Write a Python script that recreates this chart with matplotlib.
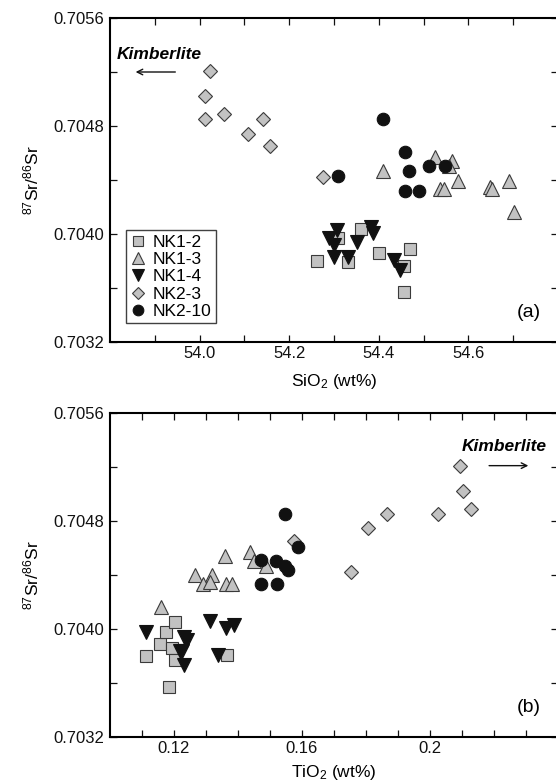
import matplotlib
matplotlib.use("Agg")
import matplotlib.pyplot as plt
from matplotlib.ticker import FixedLocator, FixedFormatter

plt.rcParams['font.family'] = ['Liberation Sans', 'DejaVu Sans']
plt.rcParams['mathtext.default'] = 'regular'

# ---------------- Data: panel (a) SiO2 vs 87Sr/86Sr ----------------
a_nk12_x = [54.262, 54.309, 54.331, 54.361, 54.400, 54.456, 54.469, 54.456]
a_nk12_y = [0.70380, 0.70397, 0.70379, 0.70404, 0.70386, 0.70376, 0.70389, 0.70357]

a_nk13_x = [54.409, 54.525, 54.564, 54.557, 54.577, 54.536, 54.545, 54.649, 54.653, 54.690, 54.701]
a_nk13_y = [0.70447, 0.70457, 0.70454, 0.70450, 0.70439, 0.70433, 0.70433, 0.70435, 0.70433, 0.70439, 0.70416]

a_nk14_x = [54.307, 54.289, 54.300, 54.300, 54.331, 54.352, 54.383, 54.387, 54.433, 54.448]
a_nk14_y = [0.70403, 0.70397, 0.70392, 0.70383, 0.70383, 0.70394, 0.70405, 0.70401, 0.70381, 0.70373]

a_nk23_x = [54.023, 54.012, 54.012, 54.055, 54.108, 54.141, 54.157, 54.276]
a_nk23_y = [0.70521, 0.70502, 0.70485, 0.70489, 0.70474, 0.70485, 0.70465, 0.70442]

a_nk210_x = [54.409, 54.309, 54.459, 54.467, 54.512, 54.547, 54.459, 54.490]
a_nk210_y = [0.70485, 0.70443, 0.70461, 0.70447, 0.70450, 0.70450, 0.70432, 0.70432]

# ---------------- Data: panel (b) TiO2 vs 87Sr/86Sr ----------------
b_nk12_x = [0.1112, 0.1155, 0.1176, 0.1202, 0.1194, 0.1202, 0.1365, 0.1183]
b_nk12_y = [0.70380, 0.70389, 0.70398, 0.70405, 0.70386, 0.70377, 0.70381, 0.70357]

b_nk13_x = [0.1158, 0.1360, 0.1437, 0.1449, 0.1487, 0.1267, 0.1319, 0.1290, 0.1311, 0.1361, 0.1381]
b_nk13_y = [0.70416, 0.70454, 0.70457, 0.70450, 0.70447, 0.70440, 0.70440, 0.70433, 0.70435, 0.70433, 0.70433]

b_nk14_x = [0.1111, 0.1311, 0.1361, 0.1386, 0.1230, 0.1240, 0.1218, 0.1226, 0.1230, 0.1337]
b_nk14_y = [0.70398, 0.70406, 0.70401, 0.70403, 0.70394, 0.70392, 0.70384, 0.70384, 0.70373, 0.70381]

b_nk23_x = [0.2093, 0.2104, 0.2127, 0.2026, 0.1867, 0.1805, 0.1575, 0.1754]
b_nk23_y = [0.70521, 0.70502, 0.70489, 0.70485, 0.70485, 0.70475, 0.70465, 0.70442]

b_nk210_x = [0.1546, 0.1588, 0.1471, 0.1518, 0.1546, 0.1557, 0.1471, 0.1521]
b_nk210_y = [0.70485, 0.70461, 0.70451, 0.70450, 0.70447, 0.70444, 0.70433, 0.70433]

series_labels = ['NK1-2', 'NK1-3', 'NK1-4', 'NK2-3', 'NK2-10']

y_major = [0.7032, 0.7040, 0.7048, 0.7056]
y_minor = [0.7036, 0.7044, 0.7052]
y_major_labels = ['0.7032', '0.7040', '0.7048', '0.7056']

a_x_major = [54.0, 54.2, 54.4, 54.6]
a_x_major_labels = ['54.0', '54.2', '54.4', '54.6']
a_x_minor = [53.9, 54.1, 54.3, 54.5, 54.7]

b_x_major = [0.12, 0.16, 0.20]
b_x_major_labels = ['0.12', '0.16', '0.2']
b_x_minor = [0.11, 0.13, 0.14, 0.15, 0.17, 0.18, 0.19, 0.21, 0.22, 0.23]

GRAY = '#c2c2c2'
EDGE = '#3a3a3a'
styles = [
    dict(marker='s', ms=8.0, mfc=GRAY, mec=EDGE, mew=0.8),
    dict(marker='^', ms=9.5, mfc=GRAY, mec=EDGE, mew=0.8),
    dict(marker='v', ms=9.5, mfc='#111111', mec='#111111', mew=0.8),
    dict(marker='D', ms=7.5, mfc=GRAY, mec=EDGE, mew=0.8),
    dict(marker='o', ms=9.0, mfc='#111111', mec='#111111', mew=0.8),
]

W, H = 556, 783
fig = plt.figure(figsize=(W / 100, H / 100), dpi=100)

def frac(l, t, r, b):
    return [l / W, 1 - b / H, (r - l) / W, (b - t) / H]

ax_a = fig.add_axes(frac(110, 18, 558, 342))
ax_b = fig.add_axes(frac(110, 413, 558, 737))

def style_axes(ax, xmaj, xmaj_labels, xmin):
    for s in ax.spines.values():
        s.set_linewidth(1.5)
    ax.set_ylim(0.7032, 0.7056)
    ax.yaxis.set_major_locator(FixedLocator(y_major))
    ax.yaxis.set_major_formatter(FixedFormatter(y_major_labels))
    ax.yaxis.set_minor_locator(FixedLocator(y_minor))
    ax.xaxis.set_major_locator(FixedLocator(xmaj))
    ax.xaxis.set_major_formatter(FixedFormatter(xmaj_labels))
    ax.xaxis.set_minor_locator(FixedLocator(xmin))
    ax.tick_params(which='both', direction='in', length=5, width=0.9,
                   top=True, right=True, labelsize=12, colors='#111111')
    ax.tick_params(axis='x', which='major', pad=3)
    ax.tick_params(axis='y', which='major', pad=4)
    ax.set_ylabel('$^{87}$Sr/$^{86}$Sr', fontsize=12.5, labelpad=9)

# Panel (a)
ax_a.set_xlim(53.8, 54.8)
a_series = [(a_nk12_x, a_nk12_y), (a_nk13_x, a_nk13_y), (a_nk14_x, a_nk14_y),
            (a_nk23_x, a_nk23_y), (a_nk210_x, a_nk210_y)]
for (xs, ys), st, lab in zip(a_series, styles, series_labels):
    ax_a.plot(xs, ys, ls='none', label=lab, **st)
style_axes(ax_a, a_x_major, a_x_major_labels, a_x_minor)
ax_a.set_xlabel('SiO$_2$ (wt%)', fontsize=12.5, labelpad=8)
leg = ax_a.legend(loc='lower left', bbox_to_anchor=(0.036, 0.058), borderaxespad=0,
                  fontsize=12.5, frameon=True, fancybox=False, edgecolor='#111111',
                  handlelength=0.9, handletextpad=0.4, labelspacing=0.12,
                  borderpad=0.25, markerscale=0.85)
leg.get_frame().set_linewidth(1.0)
ax_a.text(53.816, 0.70533, 'Kimberlite', fontsize=12.5, fontweight='bold',
          fontstyle='italic', ha='left', va='center')
ax_a.annotate('', xy=(53.851, 0.70520), xytext=(53.952, 0.70520),
              arrowprops=dict(arrowstyle='->', lw=1.0, color='#111111'))
ax_a.text(0.962, 0.09, '(a)', transform=ax_a.transAxes, fontsize=14,
          ha='right', va='center')

# Panel (b)
ax_b.set_xlim(0.10, 0.24)
b_series = [(b_nk12_x, b_nk12_y), (b_nk13_x, b_nk13_y), (b_nk14_x, b_nk14_y),
            (b_nk23_x, b_nk23_y), (b_nk210_x, b_nk210_y)]
for (xs, ys), st, lab in zip(b_series, styles, series_labels):
    ax_b.plot(xs, ys, ls='none', label=lab, **st)
style_axes(ax_b, b_x_major, b_x_major_labels, b_x_minor)
ax_b.set_xlabel('TiO$_2$ (wt%)', fontsize=12.5, labelpad=5)
ax_b.text(0.2098, 0.70535, 'Kimberlite', fontsize=12.5, fontweight='bold',
          fontstyle='italic', ha='left', va='center')
ax_b.annotate('', xy=(0.2316, 0.70521), xytext=(0.2176, 0.70521),
              arrowprops=dict(arrowstyle='->', lw=1.0, color='#111111'))
ax_b.text(0.962, 0.09, '(b)', transform=ax_b.transAxes, fontsize=14,
          ha='right', va='center')

fig.savefig('out.png', dpi=100)
